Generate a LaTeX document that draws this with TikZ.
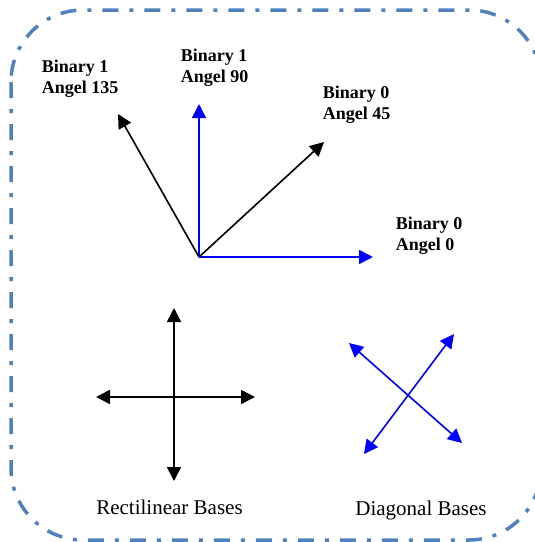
\documentclass[tikz,border=0pt]{standalone}
\usepackage{fontspec}
\setmainfont{Liberation Serif}
\usetikzlibrary{arrows.meta}
\definecolor{frameblue}{RGB}{79,129,189}

\begin{document}
\begin{tikzpicture}[x=1pt,y=-1pt,line width=1.6pt,>={Triangle[length=14pt,width=14pt]},
  lbl/.style={font=\fontsize{18}{21}\selectfont\bfseries,align=left,anchor=north west,inner sep=0pt},
  basecap/.style={font=\fontsize{21}{24}\selectfont,anchor=base,inner sep=0pt}]
\useasboundingbox (0,0) rectangle (535,542);
\draw[frameblue,line width=3.5pt,rounded corners=72pt,dash pattern=on 16pt off 11pt on 4pt off 11pt] (11,10) rectangle (541,540);
% the four angles from one origin
\coordinate (O) at (199,257); \coordinate (A0) at (373,257); \coordinate (A45) at (324,142); \coordinate (A90) at (199,104); \coordinate (A135) at (118,114);
\draw[blue,->] (O)--(A0); \draw[blue,->] (O)--(A90); \draw[->] (O)--(A45); \draw[->] (O)--(A135);
\foreach \n/\x/\y/\t in {l135/41/59.5/{Binary 1\\Angel 135},l90/180/48.5/{Binary 1\\Angel 90},l45/322/85.5/{Binary 0\\Angel 45},l0/395/216.5/{Binary 0\\Angel 0}} \node[lbl] (\n) at (\x,\y) {\t};
% the two bases
\coordinate (Rn) at (174,308); \coordinate (Rs) at (174,481); \coordinate (Rw) at (96,397); \coordinate (Re) at (255,397);
\draw[<->] (Rw)--(Re); \draw[<->] (Rn)--(Rs);
\coordinate (Dne) at (454,334); \coordinate (Dsw) at (364,454); \coordinate (Dnw) at (349,343); \coordinate (Dse) at (462,443);
\draw[blue,<->] (Dsw)--(Dne); \draw[blue,<->] (Dnw)--(Dse);
\node[basecap] (rect) at (169.5,514) {Rectilinear Bases};
\node[basecap] (diag) at (421,515) {Diagonal Bases};
\end{tikzpicture}
\end{document}
